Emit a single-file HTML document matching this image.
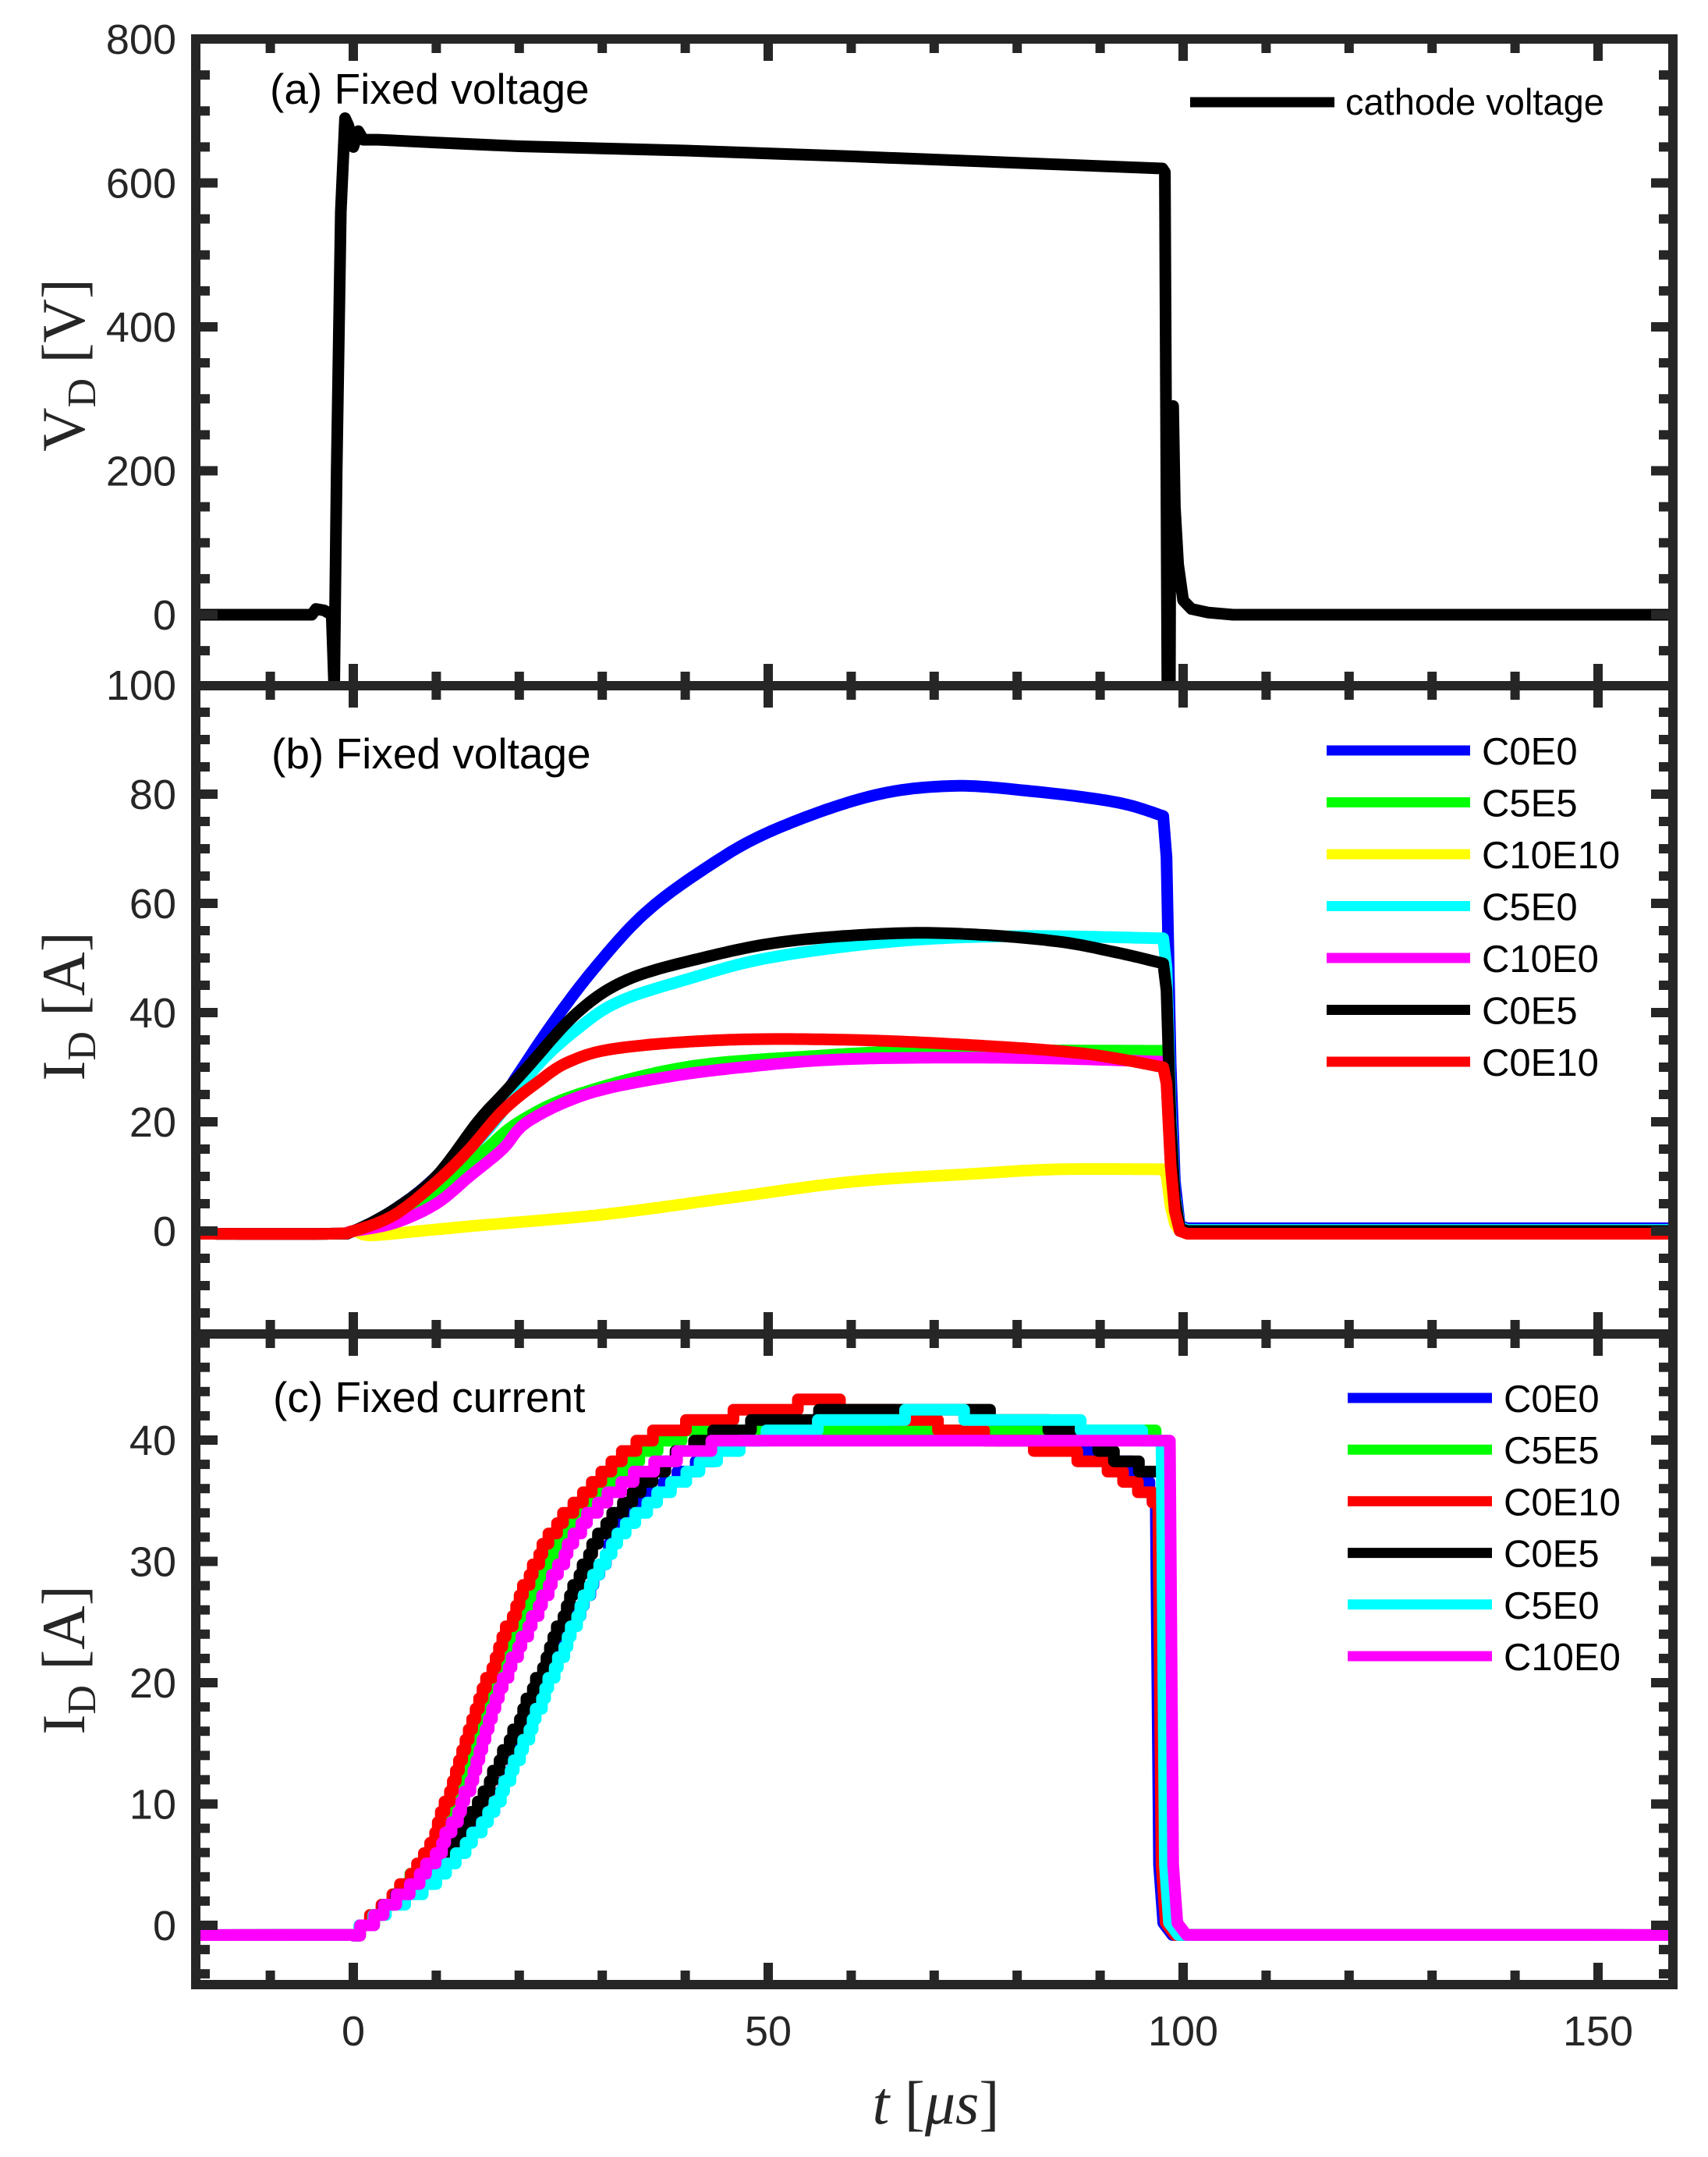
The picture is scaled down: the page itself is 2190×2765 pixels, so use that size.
<!DOCTYPE html>
<html><head><meta charset="utf-8"><style>
html,body{margin:0;padding:0;background:#fff;}
svg{display:block;}
</style></head><body>
<svg id="s" width="2190" height="2765" xmlns="http://www.w3.org/2000/svg" font-family="Liberation Sans, Arial, sans-serif">
<rect width="2190" height="2765" fill="#fff"/>
<g id="data"></g>
<g id="axes"></g>
<g font-size="55" fill="#000">
<text x="346" y="133">(a) Fixed voltage</text>
<text x="348" y="985">(b) Fixed voltage</text>
<text x="350" y="1810">(c) Fixed current</text>
</g>
<g font-size="47" fill="#000">
<line x1="1526" y1="131" x2="1711" y2="131" stroke="#000" stroke-width="13"/>
<text x="1725" y="147">cathode voltage</text>
</g>
<g id="leg" font-size="49" fill="#000"></g>
<g font-size="54" fill="#262626" id="ticklabels"></g>
<g font-family="Liberation Serif, serif" font-size="78" fill="#262626">
<text transform="translate(108,468) rotate(-90)" text-anchor="middle">V<tspan font-size="52" dy="14">D</tspan><tspan dy="-14"> [V]</tspan></text>
<text transform="translate(108,1290) rotate(-90)" text-anchor="middle">I<tspan font-size="52" dy="14">D</tspan><tspan dy="-14"> [A]</tspan></text>
<text transform="translate(108,2128) rotate(-90)" text-anchor="middle">I<tspan font-size="52" dy="14">D</tspan><tspan dy="-14"> [A]</tspan></text>
<text x="1200" y="2722" text-anchor="middle"><tspan font-style="italic">t</tspan> [<tspan font-style="italic">μs</tspan>]</text>
</g>
</svg>
<script>
(function(){
var NS="http://www.w3.org/2000/svg";
var SW=15;
function X(t){return 453+10.64*t;}
var P={a:{y0:788,k:0.9225,top:50,bot:880},b:{y0:1578,k:7,top:879,bot:1710},c:{y0:2468,k:15.55,top:1710,bot:2544}};
function Y(p,v){return P[p].y0-P[p].k*v;}
function el(n,a,parent){var e=document.createElementNS(NS,n);for(var k in a)e.setAttribute(k,a[k]);(parent||document.getElementById('data')).appendChild(e);return e;}
function sample(pts,step){
 var out=[];
 for(var i=0;i<pts.length-1;i++){
  var p0=pts[Math.max(0,i-1)],p1=pts[i],p2=pts[i+1],p3=pts[Math.min(pts.length-1,i+2)];
  var n=Math.max(1,Math.ceil((p2[0]-p1[0])/step));
  for(var j=0;j<n;j++){
   var s=j/n,s2=s*s,s3=s2*s;
   var f=function(a,b,c,d){return 0.5*((2*b)+(-a+c)*s+(2*a-5*b+4*c-d)*s2+(-a+3*b-3*c+d)*s3);};
   out.push([f(p0[0],p1[0],p2[0],p3[0]),f(p0[1],p1[1],p2[1],p3[1])]);
  }
 }
 out.push(pts[pts.length-1]);return out;
}
var defs=el('defs',{},document.getElementById('s'));
['a','b','c'].forEach(function(p){var cp=el('clipPath',{id:'c'+p},defs);el('rect',{x:251,y:P[p].top,width:1894,height:P[p].bot-P[p].top},cp);});
// Panel a
var ga=el('g',{'clip-path':'url(#ca)'});
var va=[[-19,0],[-5,0],[-4.5,8],[-3.5,6],[-2.6,0],[-2.3,-100],[-2.0,200],[-1.5,560],[-1,690],[-0.6,680],[0,650],[0.6,672],[1.2,660],[3,660],[10,656],[20,651],[40,645],[60,637],[80,628],[97.5,620],[97.8,615],[98.1,-100],[98.4,-100],[98.5,280],[98.8,290],[99.0,150],[99.4,70],[100,20],[101,8],[103,3],[106,0],[159,0]];
(function(){var d="";va.forEach(function(q,i){d+=(i?"L":"M")+X(q[0]).toFixed(1)+","+Y('a',q[1]).toFixed(1);});el('path',{d:d,fill:'none',stroke:'#000','stroke-width':SW,'stroke-linejoin':'round','stroke-linecap':'round'},ga);})();
// Panel b
var B=[
 ['#0000ff',[[5,4],[10,10],[16,20],[20,29],[24,38],[29,48],[35,58],[42,66],[50,73],[62,79.5],[72,81.5],[82,80.5],[92,78.5],[97.6,76]],0.5],
 ['#00ff00',[[5,2.5],[8,5],[12,10],[16,15],[20,20],[27,25],[40,30],[55,32],[70,33],[97.6,33]],-0.3],
 ['#ffff00',[[2,-0.8],[8,0],[15,1],[30,3],[45,6],[60,9],[75,10.5],[85,11.3],[97.6,11.3]],-0.5],
 ['#00ffff',[[5,3],[10,9],[14,15],[17,20],[22,30],[27,37],[32,42],[40,46],[50,50],[65,53],[80,54],[97.6,53.6]],0.2],
 ['#ff00ff',[[5,1.5],[10,5],[14,10],[18,15],[21,20],[28,25],[37,28],[47,30],[60,31.5],[80,31.7],[97.6,31]],0],
 ['#000000',[[5,4],[10,10],[15,20],[18,25],[21,30],[27,40],[33,46],[42,50],[52,53],[65,54.5],[75,54.3],[85,53],[92,51],[97.6,49]],0],
 ['#ff0000',[[5,3],[10,9],[14,15],[18,22],[22,27],[26,31],[32,33.5],[45,35],[60,35],[75,34],[88,32.5],[97.6,30]],-0.5]
];
var gb=el('g',{'clip-path':'url(#cb)'});
B.forEach(function(s){
 var pts=[[-19,-0.5],[-3,-0.5],[0,0]].concat(s[1]);
 var sm=sample(pts,0.5);
 var last=s[1][s[1].length-1][1];
 sm=sm.concat([[98,last*0.9],[98.5,last*0.4],[99,last*0.12],[99.6,s[2]+0.5],[100.5,s[2]],[159,s[2]]]);
 var d="";sm.forEach(function(q,i){d+=(i?"L":"M")+X(q[0]).toFixed(1)+","+Y('b',q[1]).toFixed(1);});
 el('path',{d:d,fill:'none',stroke:s[0],'stroke-width':SW,'stroke-linejoin':'round','stroke-linecap':'round'},gb);
});
// Panel c
var C=[
 ['#0000ff',[[3,1],[8,4],[12,6],[17,10],[23,20],[30,30],[35,35],[47,40],[55,41],[65,41.5],[80,40],[93,38],[96.5,35]],96.7],
 ['#00ff00',[[3,1],[8,5],[12,10],[17,20],[23.5,30],[28,35],[38,40],[50,41],[90,41],[97.5,40]],98.2],
 ['#ff0000',[[2,0.5],[8,5],[11,10],[16,20],[22,30],[27,35],[35,40],[45,42],[55,43],[62,42.5],[75,40.5],[82,39.5],[90,38],[96.8,35]],97],
 ['#000000',[[3,1],[10,5],[15,10],[22,20],[28,30],[33,35],[42,40],[55,42],[70,42.5],[85,41],[92,38.5],[97.3,37]],97.5],
 ['#00ffff',[[3,1],[10,4],[17,10],[23.5,20],[30,30],[36,35],[48,40],[65,42],[75,42],[90,41],[97.2,40]],97.4],
 ['#ff00ff',[[3,1],[8,4],[13,10],[18,20],[25,30],[30,35],[40,39],[55,40],[97.8,40]],98.4]
];
var gc=el('g',{'clip-path':'url(#cc)'});
C.forEach(function(s){
 var pts=[[0,-0.8]].concat(s[1]);
 var sm=sample(pts,0.4);
 var d="M"+X(-19)+","+Y('c',-0.8);
 var prev=-0.8;
 sm.forEach(function(q){var v=Math.round(q[1]/0.85)*0.85;var x=X(q[0]).toFixed(1);d+="L"+x+","+Y('c',prev).toFixed(1)+"L"+x+","+Y('c',v).toFixed(1);prev=v;});
 var dx=s[2];
 d+="L"+X(dx).toFixed(1)+","+Y('c',prev).toFixed(1)+"L"+X(dx+0.4).toFixed(1)+","+Y('c',5).toFixed(1)+"L"+X(dx+0.9).toFixed(1)+","+Y('c',0.2).toFixed(1)+"L"+X(dx+2).toFixed(1)+","+Y('c',-0.8).toFixed(1)+"L"+X(159)+","+Y('c',-0.8);
 el('path',{d:d,fill:'none',stroke:s[0],'stroke-width':SW,'stroke-linejoin':'round','stroke-linecap':'round'},gc);
});
// Axes
var ax=document.getElementById('axes');var col='#262626';
function R(x,y,w,h){el('rect',{x:x,y:y,width:w,height:h,fill:col},ax);}
var L=251,Rr=2145,T=6;
R(L-T,50-T,Rr-L+2*T,12);R(L-T,879-T,Rr-L+2*T,12);R(L-T,1710-T,Rr-L+2*T,12);R(L-T,2544-T,Rr-L+2*T,12);
R(L-T,50-T,12,2544-50+2*T);R(Rr-T,50-T,12,2544-50+2*T);
var tl=document.getElementById('ticklabels');
function txt(x,y,s,anch){var e=el('text',{x:x,y:y,'text-anchor':anch},tl);e.textContent=s;}
for(var t=-10;t<=150;t+=10){
 var maj=(t%50==0),len=maj?22:12,x=X(t);
 [50,879,1710,2544].forEach(function(yb,i){
  if(i<3)R(x-6,yb+T,12,len);
  if(i>0)R(x-6,yb-T-len,12,len);
 });
 if(maj)txt(x,2622,String(t),'middle');
}
function yt(p,lo,hi,mi,ma){
 for(var v=lo;v<=hi+1e-6;v+=mi){
  var y=Y(p,v);if(y<P[p].top+8||y>P[p].bot-8)continue;
  var maj=Math.abs(v/ma-Math.round(v/ma))<1e-6,len=maj?22:12;
  R(L+T,y-6,len,12);R(Rr-T-len,y-6,len,12);
 }
}
yt('a',-100,800,50,200);yt('b',-15,100,5,20);yt('c',-4,48,2,10);
[0,200,400,600,800].forEach(function(v){txt(226,Y('a',v)+19,String(v),'end');});
[0,20,40,60,80,100].forEach(function(v){txt(226,Y('b',v)+19,String(v),'end');});
[0,10,20,30,40].forEach(function(v){txt(226,Y('c',v)+19,String(v),'end');});
var lg=document.getElementById('leg');
var lb=[['#0000ff','C0E0'],['#00ff00','C5E5'],['#ffff00','C10E10'],['#00ffff','C5E0'],['#ff00ff','C10E0'],['#000000','C0E5'],['#ff0000','C0E10']];
lb.forEach(function(s,i){var y=962+66.5*i;el('line',{x1:1701,y1:y,x2:1885,y2:y,stroke:s[0],'stroke-width':13},lg);var e=el('text',{x:1900,y:y+18},lg);e.textContent=s[1];});
var lc=[['#0000ff','C0E0'],['#00ff00','C5E5'],['#ff0000','C0E10'],['#000000','C0E5'],['#00ffff','C5E0'],['#ff00ff','C10E0']];
lc.forEach(function(s,i){var y=1792+66.2*i;el('line',{x1:1728,y1:y,x2:1913,y2:y,stroke:s[0],'stroke-width':13},lg);var e=el('text',{x:1928,y:y+18},lg);e.textContent=s[1];});
})();
</script>
</body></html>
